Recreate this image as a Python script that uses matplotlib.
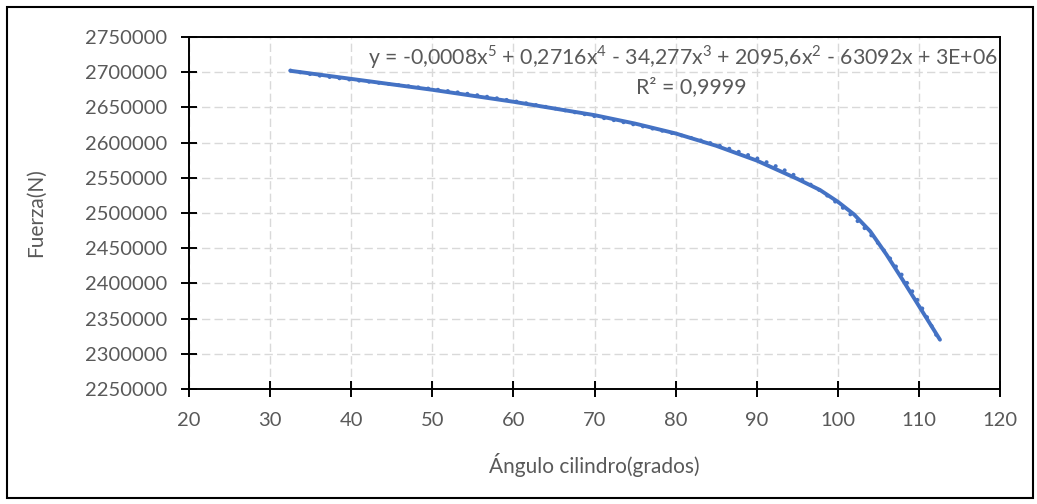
import numpy as np
import matplotlib
matplotlib.use('Agg')
import matplotlib.pyplot as plt
from matplotlib.ticker import FuncFormatter

# angulo del cilindro (grados) y fuerza (N)
angulo = [32.5, 40, 50, 60, 70, 75, 80, 85, 90, 95, 97.8, 100,
          102, 104, 106, 108, 110, 112.6]
fuerza = [2702000, 2690500, 2675000, 2658000, 2639000, 2627000, 2613000,
          2595500, 2574500, 2548500, 2532700, 2516000, 2498000, 2474000,
          2441000, 2405000, 2368000, 2320000]

ecuacion = "y = -0,0008x$^5$ + 0,2716x$^4$ - 34,277x$^3$ + 2095,6x$^2$ - 63092x + 3E+06"
r2_texto = "R² = 0,9999"

plt.rcParams['font.family'] = ['Lato', 'DejaVu Sans']
plt.rcParams['mathtext.fontset'] = 'custom'
plt.rcParams['mathtext.rm'] = 'Lato'
GRIS = '#595959'
AZUL = '#4472C4'

fig = plt.figure(figsize=(10.37, 5.04), dpi=100)
ax = fig.add_axes([0.1823, 0.2282, 0.782, 0.6984])

ax.plot(angulo, fuerza, color=AZUL, lw=2.8, solid_capstyle='round',
        solid_joinstyle='round', zorder=3)

# linea de tendencia polinomica de grado 5
coef = np.polyfit(angulo, fuerza, 5)
xs = np.linspace(angulo[0], angulo[-1], 300)
ax.plot(xs, np.polyval(coef, xs), color=AZUL, lw=2.8, ls=(0, (0.05, 2.5)),
        dash_capstyle='round', zorder=2)

ax.set_xlim(20, 120)
ax.set_ylim(2250000, 2750000)
ax.set_xticks(np.arange(20, 121, 10))
ax.set_yticks(np.arange(2250000, 2750001, 50000))
ax.yaxis.set_major_formatter(FuncFormatter(lambda v, p: f"{v:.0f}"))
ax.grid(True, color='#D9D9D9', ls=(0, (6, 3)), lw=1.0)
ax.set_axisbelow(True)
for s in ax.spines.values():
    s.set_linewidth(1.4)
    s.set_color('black')
ax.tick_params(direction='inout', length=11, width=1.4, labelsize=14.5,
               labelcolor=GRIS, pad=10)
ax.tick_params(axis='x', pad=11)

ax.set_xlabel("Ángulo cilindro(grados)", fontsize=15, color=GRIS, labelpad=17)
ax.set_ylabel("Fuerza(N)", fontsize=15, color=GRIS, labelpad=28)

ax.text(0.997, 0.943, ecuacion, transform=ax.transAxes, ha='right', va='center',
        fontsize=15.3, color=GRIS)
ax.text(0.619, 0.858, r2_texto, transform=ax.transAxes, ha='center', va='center',
        fontsize=15.3, color=GRIS)

# marco exterior del grafico
fig.patches.append(plt.Rectangle((0.007, 0.012), 0.989, 0.974, transform=fig.transFigure,
                                 fill=False, edgecolor='black', lw=1.5))

fig.savefig('out.png', dpi=100)
